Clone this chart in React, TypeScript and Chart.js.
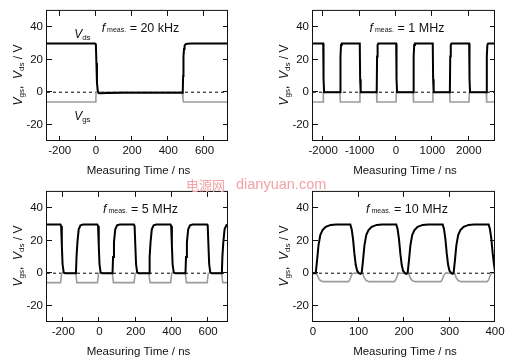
import React, { useEffect, useRef } from "react";
import { Chart, registerables } from "chart.js";

Chart.register(...registerables);

const FONT = '"Liberation Sans", Arial, sans-serif';

// ---------- Y axis (shared) ----------
const yMin = -30;
const yMax = 50;
const yTicks = [-20, 0, 20, 40];

// ---------- Panel 1: 20 kHz ----------
const x20kRange = [-270, 730];
const x20kTicks = [-200, 0, 200, 400, 600];
const t20kVds = [-270, -5, 0, 3, 6, 10, 15, 25, 60, 150, 300, 478, 480, 482, 484, 487, 490, 495, 505, 530, 730];
const v20kVds = [30, 30, 29.5, 18, 6, 1, -0.5, -0.6, -0.5, -0.4, -0.3, -0.3, 0, 10, 22, 26.5, 28.5, 29.4, 29.8, 30, 30];
const t20kVgs = [-270, -2, 0, 2, 478, 481, 484, 730];
const v20kVgs = [-6, -6, -3, 0, 0, -4, -6, -6];

// ---------- Panel 2: 1 MHz ----------
const x1MRange = [-2280, 2720];
const x1MTicks = [-2000, -1000, 0, 1000, 2000];
const t1MVds = [-2280, -2000, -1990, -1975, -1535, -1525, -1510, -1490, -995, -985, -970, -530, -520, -505, -485, 5, 15, 30, 475, 485, 500, 520, 1010, 1020, 1035, 1480, 1490, 1505, 1525, 2010, 2020, 2035, 2485, 2495, 2510, 2530, 2720];
const v1MVds = [30, 30, 8, 0, 0, 22, 29, 30, 30, 8, 0, 0, 22, 29, 30, 30, 8, 0, 0, 22, 29, 30, 30, 8, 0, 0, 22, 29, 30, 30, 8, 0, 0, 22, 29, 30, 30];
const t1MVgs = [-2280, -2005, -1995, -1540, -1530, -1000, -990, -535, -525, 0, 10, 470, 480, 1005, 1015, 1475, 1485, 2005, 2015, 2480, 2490, 2720];
const v1MVgs = [-6, -6, 0, 0, -6, -6, 0, 0, -6, -6, 0, 0, -6, -6, 0, 0, -6, -6, 0, 0, -6, -6];

// ---------- Panel 3: 5 MHz ----------
const x5MRange = [-290, 710];
const x5MTicks = [-200, 0, 200, 400, 600];
const t5MVds = [
  -290, -216, -212, -208, -204, -198, -190, -130, -127, -122, -115, -105, -90,
  -12, -8, -4, 0, 6, 14, 72, 75, 80, 87, 97, 112,
  190, 194, 198, 202, 208, 216, 274, 277, 282, 289, 299, 314,
  392, 396, 400, 404, 410, 418, 475, 478, 483, 490, 500, 515,
  594, 598, 602, 606, 612, 620, 676, 679, 684, 691, 701, 710,
];
const v5MVds = [
  30, 30, 29, 17, 5.5, 0.6, 0, 0, 10, 19, 27, 29.5, 30,
  30, 29, 17, 5.5, 0.6, 0, 0, 10, 19, 27, 29.5, 30,
  30, 29, 17, 5.5, 0.6, 0, 0, 10, 19, 27, 29.5, 30,
  30, 29, 17, 5.5, 0.6, 0, 0, 10, 19, 27, 29.5, 30,
  30, 29, 17, 5.5, 0.6, 0, 0, 10, 19, 27, 29.5, 30,
];
const t5MVgs = [-290, -215, -209, -131, -125, -11, -5, 71, 77, 191, 197, 273, 279, 393, 399, 474, 480, 595, 601, 675, 681, 710];
const v5MVgs = [-5.8, -5.8, 0, 0, -5.8, -5.8, 0, 0, -5.8, -5.8, 0, 0, -5.8, -5.8, 0, 0, -5.8, -5.8, 0, 0, -5.8, -5.8];

// ---------- Panel 4: 10 MHz ----------
const x10MRange = [0, 400];
const x10MTicks = [0, 100, 200, 300, 400];
const t10MVds = [
  0, 6, 9, 12, 16, 21, 28, 39, 51, 82, 85, 88, 91, 94, 97, 101, 104,
  107, 110, 113, 117, 122, 129, 140, 152, 183, 186, 189, 192, 195, 198, 202, 205,
  208, 211, 214, 218, 223, 230, 241, 253, 285, 288, 291, 294, 297, 300, 304, 307,
  309, 312, 315, 319, 324, 331, 342, 354, 386, 389, 392, 395, 398, 400,
];
const v10MVds = [
  0, 0, 8, 17, 23.5, 26.5, 28.5, 29.7, 30, 30, 27, 21, 12, 5, 1.5, 0, -0.4,
  0, 8, 17, 23.5, 26.5, 28.5, 29.7, 30, 30, 27, 21, 12, 5, 1.5, 0, -0.4,
  0, 8, 17, 23.5, 26.5, 28.5, 29.7, 30, 30, 27, 21, 12, 5, 1.5, 0, -0.4,
  0, 8, 17, 23.5, 26.5, 28.5, 29.7, 30, 30, 27, 21, 12, 5, 1,
];
const t10MVgs = [
  0, 8, 12, 16, 22, 78, 81, 85, 88,
  109, 113, 117, 123, 179, 182, 186, 189,
  210, 214, 218, 224, 281, 284, 288, 291,
  311, 315, 319, 325, 383, 386, 390, 393, 400,
];
const v10MVgs = [
  0, 0, -3, -4.5, -5.2, -5.2, -4, -1, 0,
  0, -3, -4.5, -5.2, -5.2, -4, -1, 0,
  0, -3, -4.5, -5.2, -5.2, -4, -1, 0,
  0, -3, -4.5, -5.2, -5.2, -4, -1, 0, 0,
];

const freqLabels = ["= 20 kHz", "= 1 MHz", "= 5 MHz", "= 10 MHz"];

type Seg = { t: string; s: number; i?: boolean; dy?: number };

function segFont(g: Seg) {
  return `${g.i ? "italic " : ""}${g.s}px ${FONT}`;
}

function measure(ctx: CanvasRenderingContext2D, segs: Seg[]) {
  let w = 0;
  for (const g of segs) {
    ctx.font = segFont(g);
    w += ctx.measureText(g.t).width;
  }
  return w;
}

function drawSegs(ctx: CanvasRenderingContext2D, segs: Seg[], x: number, y: number) {
  let cx = x;
  ctx.textBaseline = "alphabetic";
  ctx.textAlign = "left";
  for (const g of segs) {
    ctx.font = segFont(g);
    ctx.fillText(g.t, cx, y + (g.dy || 0));
    cx += ctx.measureText(g.t).width;
  }
}

const zip = (ts: number[], vs: number[]) => ts.map((t, k) => ({ x: t, y: vs[k] }));

type PanelProps = {
  left: number;
  top: number;
  width: number;
  height: number;
  padTop: number;
  padRight: number;
  yAxisW: number;
  xAxisH: number;
  range: number[];
  ticks: number[];
  tVds: number[];
  vVds: number[];
  tVgs: number[];
  vVgs: number[];
  freq: string;
  labels?: boolean;
};

function Panel(p: PanelProps) {
  const ref = useRef<HTMLCanvasElement | null>(null);
  useEffect(() => {
    const canvas = ref.current;
    if (!canvas) return;
    const framePlugin = {
      id: "frame",
      afterDraw(chart: any) {
        const ctx: CanvasRenderingContext2D = chart.ctx;
        const a = chart.chartArea;
        const xs = chart.scales.x;
        const ys = chart.scales.y;
        ctx.save();
        ctx.strokeStyle = "#111";
        ctx.lineWidth = 1;
        ctx.strokeRect(a.left - 0.5, a.top - 0.5, a.right - a.left, a.bottom - a.top);
        const tl = 5;
        ctx.beginPath();
        for (const v of p.ticks) {
          const px = Math.round(xs.getPixelForValue(v)) - 0.5;
          ctx.moveTo(px, a.bottom);
          ctx.lineTo(px, a.bottom - tl);
          ctx.moveTo(px, a.top);
          ctx.lineTo(px, a.top + tl);
        }
        for (const v of yTicks) {
          const py = Math.round(ys.getPixelForValue(v)) - 0.5;
          ctx.moveTo(a.left, py);
          ctx.lineTo(a.left + tl, py);
          ctx.moveTo(a.right, py);
          ctx.lineTo(a.right - tl, py);
        }
        ctx.stroke();

        ctx.fillStyle = "#111";
        // x title
        ctx.font = `11.5px ${FONT}`;
        ctx.textAlign = "center";
        ctx.textBaseline = "alphabetic";
        ctx.fillText("Measuring Time / ns", (a.left + a.right) / 2 + 1, a.bottom + 32.5);

        // y title (rotated, with subscripts)
        const ySegs: Seg[] = [
          { t: "V", s: 12, i: true },
          { t: "gs", s: 8, dy: 2.5 },
          { t: ",  ", s: 12 },
          { t: "V", s: 12, i: true },
          { t: "ds", s: 8, dy: 2.5 },
          { t: " / V", s: 12 },
        ];
        const yw = measure(ctx, ySegs);
        ctx.save();
        ctx.translate(a.left - 25.5, (a.top + a.bottom) / 2 - 1);
        ctx.rotate(-Math.PI / 2);
        drawSegs(ctx, ySegs, -yw / 2, 0);
        ctx.restore();

        // frequency annotation
        const fSegs: Seg[] = [
          { t: "f", s: 12.5, i: true },
          { t: " meas.", s: 7, dy: 0.5 },
          { t: " " + p.freq, s: 12.5 },
        ];
        const fw = measure(ctx, fSegs);
        drawSegs(ctx, fSegs, (a.left + a.right) / 2 + 3 - fw / 2, a.top + 21);

        if (p.labels) {
          const lx = xs.getPixelForValue(-120);
          drawSegs(ctx, [{ t: "V", s: 12, i: true }, { t: "ds", s: 8, dy: 2.5 }], lx, ys.getPixelForValue(33.5));
          drawSegs(ctx, [{ t: "V", s: 12, i: true }, { t: "gs", s: 8, dy: 2.5 }], lx, ys.getPixelForValue(-17));
        }
        ctx.restore();
      },
    };

    const chart = new Chart(canvas, {
      type: "line",
      data: {
        datasets: [
          {
            data: zip(p.tVds, p.vVds),
            borderColor: "#000",
            borderWidth: 2,
            pointRadius: 0,
            tension: 0,
            order: 0,
          },
          {
            data: zip(p.tVgs, p.vVgs),
            borderColor: "#9c9c9c",
            borderWidth: 1.6,
            pointRadius: 0,
            tension: 0,
            order: 1,
          },
          {
            data: [
              { x: p.range[0], y: 0 },
              { x: p.range[1], y: 0 },
            ],
            borderColor: "#000",
            borderWidth: 1,
            borderDash: [3, 3],
            pointRadius: 0,
            order: 2,
          },
        ],
      },
      options: {
        responsive: false,
        animation: false,
        devicePixelRatio: 1,
        layout: { padding: { top: p.padTop, right: p.padRight, left: 0, bottom: 0 } },
        plugins: { legend: { display: false }, tooltip: { enabled: false } },
        scales: {
          x: {
            type: "linear",
            min: p.range[0],
            max: p.range[1],
            grid: { display: false, drawTicks: false },
            border: { display: false },
            ticks: {
              font: { family: FONT, size: 11.5 },
              color: "#111",
              padding: 3,
              maxRotation: 0,
              autoSkip: false,
              callback: (v: any) => String(v),
            },
            afterBuildTicks: (s: any) => {
              s.ticks = p.ticks.map((v) => ({ value: v }));
            },
            afterFit: (s: any) => {
              s.height = p.xAxisH;
            },
          },
          y: {
            type: "linear",
            min: yMin,
            max: yMax,
            grid: { display: false, drawTicks: false },
            border: { display: false },
            ticks: {
              font: { family: FONT, size: 11.5 },
              color: "#111",
              padding: 4,
              callback: (v: any) => String(v),
            },
            afterBuildTicks: (s: any) => {
              s.ticks = yTicks.map((v) => ({ value: v }));
            },
            afterFit: (s: any) => {
              s.width = p.yAxisW;
            },
          },
        },
      },
      plugins: [framePlugin],
    } as any);
    return () => chart.destroy();
  }, []);
  return (
    <canvas
      ref={ref}
      width={p.width}
      height={p.height}
      style={{ position: "absolute", left: p.left, top: p.top, width: p.width, height: p.height }}
    />
  );
}

export default function App() {
  return (
    <div style={{ position: "absolute", left: 0, top: 0, width: 513, height: 362, background: "#fff", overflow: "hidden" }}>
      <Panel left={0} top={0} width={256} height={181} padTop={5} padRight={28} yAxisW={47} xAxisH={40}
        range={x20kRange} ticks={x20kTicks} tVds={t20kVds} vVds={v20kVds} tVgs={t20kVgs} vVgs={v20kVgs} freq={freqLabels[0]} labels />
      <Panel left={256} top={0} width={257} height={181} padTop={5} padRight={18} yAxisW={57} xAxisH={40}
        range={x1MRange} ticks={x1MTicks} tVds={t1MVds} vVds={v1MVds} tVgs={t1MVgs} vVgs={v1MVgs} freq={freqLabels[1]} />
      <Panel left={0} top={181} width={256} height={181} padTop={5} padRight={28} yAxisW={47} xAxisH={40}
        range={x5MRange} ticks={x5MTicks} tVds={t5MVds} vVds={v5MVds} tVgs={t5MVgs} vVgs={v5MVgs} freq={freqLabels[2]} />
      <Panel left={256} top={181} width={257} height={181} padTop={5} padRight={18} yAxisW={57} xAxisH={40}
        range={x10MRange} ticks={x10MTicks} tVds={t10MVds} vVds={v10MVds} tVgs={t10MVgs} vVgs={v10MVgs} freq={freqLabels[3]} />
      <div style={{ position: "absolute", left: 186, top: 177, fontSize: 13, lineHeight: "16px", color: "#f2a3a6", whiteSpace: "nowrap", fontFamily: '"Noto Sans CJK SC", sans-serif' }}>
        电源网
      </div>
      <div style={{ position: "absolute", left: 236, top: 176, fontSize: 14.5, lineHeight: "17px", color: "#f2a3a6", whiteSpace: "nowrap", fontFamily: FONT }}>
        dianyuan.com
      </div>
    </div>
  );
}
